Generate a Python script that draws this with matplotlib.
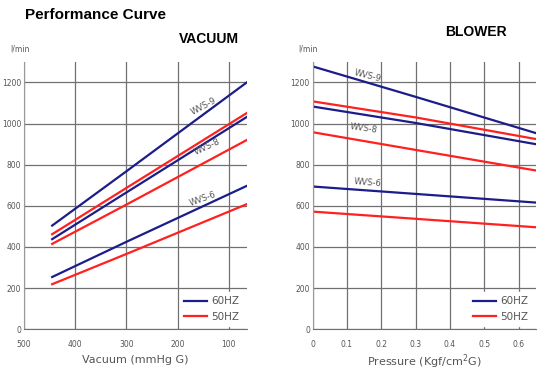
import matplotlib.pyplot as plt

# vacuum side (mmHg G) vs flow (l/min)
vac_x = [445, 300, 65]
vac_wvs9_60 = [504, 768, 1200]
vac_wvs9_50 = [462, 687, 1051]
vac_wvs8_60 = [438, 665, 1032]
vac_wvs8_50 = [415, 606, 920]
vac_wvs6_60 = [254, 425, 697]
vac_wvs6_50 = [219, 366, 608]

# blower side (Kgf/cm2 G) vs flow (l/min)
blo_x = [0, 0.3, 0.65]
blo_wvs9_60 = [1278, 1130, 954]
blo_wvs9_50 = [1108, 1030, 925]
blo_wvs8_60 = [1083, 1003, 900]
blo_wvs8_50 = [958, 872, 772]
blo_wvs6_60 = [694, 658, 616]
blo_wvs6_50 = [572, 537, 496]

vac_ticks = [500, 400, 300, 200, 100]
blo_ticks = [0, 0.1, 0.2, 0.3, 0.4, 0.5, 0.6]
blo_ticklabels = ["0", "0.1", "0.2", "0.3", "0.4", "0.5", "0.6"]
y_ticks = [0, 200, 400, 600, 800, 1000, 1200]

BLUE = "#1c1c8a"
RED = "#ff2020"
GRID = "#707070"
TXT = "#555555"

fig = plt.figure(figsize=(5.5, 3.75), dpi=100)
ax1 = fig.add_axes([0.0436, 0.122, 0.405, 0.713])
ax2 = fig.add_axes([0.5685, 0.122, 0.4055, 0.713])


def style(ax):
    ax.set_ylim(0, 1300)
    ax.set_yticks(y_ticks)
    ax.grid(True, color=GRID, lw=0.9)
    ax.set_axisbelow(True)
    for s in ["top", "right"]:
        ax.spines[s].set_visible(False)
    ax.spines["left"].set_color("#999999")
    ax.spines["bottom"].set_color(GRID)
    ax.tick_params(length=0, labelsize=5.5, colors=TXT)
    ax.tick_params(axis="y", pad=2)
    ax.tick_params(axis="x", pad=8)
    ax.text(-0.02, 1.03, "l/min", transform=ax.transAxes, fontsize=5.5,
            color=TXT, ha="center", va="bottom")


# VACUUM
ax1.plot(vac_x, vac_wvs9_60, color=BLUE, lw=1.6)
ax1.plot(vac_x, vac_wvs9_50, color=RED, lw=1.6)
ax1.plot(vac_x, vac_wvs8_60, color=BLUE, lw=1.6)
ax1.plot(vac_x, vac_wvs8_50, color=RED, lw=1.6)
ax1.plot(vac_x, vac_wvs6_60, color=BLUE, lw=1.6, label="60HZ")
ax1.plot(vac_x, vac_wvs6_50, color=RED, lw=1.6, label="50HZ")
ax1.set_xlim(500, 65)
ax1.set_xticks(vac_ticks)
style(ax1)
ax1.set_xlabel("Vacuum (mmHg G)", fontsize=8, color=TXT, labelpad=4)
ax1.text(150, 1085, "WVS-9", rotation=28, fontsize=6, color=TXT, ha="center", va="center")
ax1.text(142, 885, "WVS-8", rotation=25, fontsize=6, color=TXT, ha="center", va="center")
ax1.text(150, 632, "WVS-6", rotation=20, fontsize=6, color=TXT, ha="center", va="center")
ax1.set_title("VACUUM", fontsize=10, fontweight="bold",
              family=["Liberation Sans Narrow", "Liberation Sans"], x=0.83, y=1.04)

# BLOWER
ax2.plot(blo_x, blo_wvs9_60, color=BLUE, lw=1.6)
ax2.plot(blo_x, blo_wvs9_50, color=RED, lw=1.6)
ax2.plot(blo_x, blo_wvs8_60, color=BLUE, lw=1.6)
ax2.plot(blo_x, blo_wvs8_50, color=RED, lw=1.6)
ax2.plot(blo_x, blo_wvs6_60, color=BLUE, lw=1.6, label="60HZ")
ax2.plot(blo_x, blo_wvs6_50, color=RED, lw=1.6, label="50HZ")
ax2.set_xlim(0, 0.65)
ax2.set_xticks(blo_ticks)
ax2.set_xticklabels(blo_ticklabels)
style(ax2)
ax2.set_xlabel("Pressure (Kgf/cm$^2$G)", fontsize=8, color=TXT, labelpad=2)
ax2.text(0.16, 1232, "WVS-9", rotation=-14, fontsize=6, color=TXT, ha="center", va="center")
ax2.text(0.15, 978, "WVS-8", rotation=-8, fontsize=6, color=TXT, ha="center", va="center")
ax2.text(0.16, 712, "WVS-6", rotation=-5, fontsize=6, color=TXT, ha="center", va="center")
ax2.set_title("BLOWER", fontsize=10, fontweight="bold",
              family=["Liberation Sans Narrow", "Liberation Sans"], x=0.73, y=1.065)

for ax in (ax1, ax2):
    leg = ax.legend(loc="lower right", fontsize=7.5, handlelength=2.2,
                    handletextpad=0.4, labelspacing=0.55, borderaxespad=0.3,
                    frameon=True, fancybox=False, framealpha=1,
                    facecolor="white", edgecolor="white")
    for t in leg.get_texts():
        t.set_color(TXT)

fig.text(0.045, 0.96, "Performance Curve", fontsize=11, fontweight="bold",
         family=["Liberation Sans", "DejaVu Sans"], va="center")

fig.savefig("out.png", dpi=100)
